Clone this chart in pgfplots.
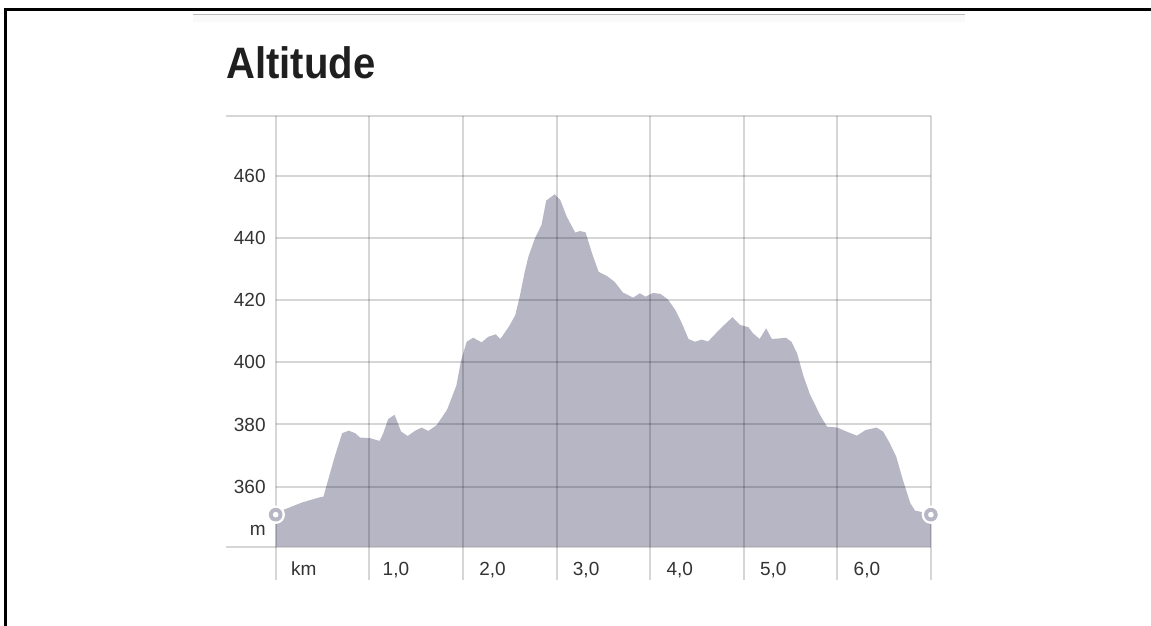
\documentclass[border=0pt]{standalone}
\usepackage{fontspec}
\setmainfont{Liberation Sans}
\usepackage{graphicx}
\usepackage{pgfplots}
\pgfplotsset{compat=1.18}
\definecolor{lav}{HTML}{B7B6C5}
\definecolor{tickc}{HTML}{333333}
\begin{document}
\begin{tikzpicture}[x=0.5pt,y=0.5pt]
\useasboundingbox (0,0) rectangle (1151,626);
\fill[white] (0,0) rectangle (1151,626);
\coordinate (O) at (226,79.3);
% frame
\draw[line width=1.5pt,black] (4,616) -- (1151,616);
\draw[line width=1.5pt,black] (5.5,616.75) -- (5.5,0);
\fill[gray!5] (193,610.5) rectangle (965,604);
\draw[line width=0.75pt,gray!55] (193,611.5) -- (965,611.5);
\node[anchor=base west,inner sep=0,font=\fontsize{22pt}{22pt}\selectfont\bfseries,text=black!88] at (226,547.7) {\scalebox{0.91}[1]{Altitude}};
\begin{axis}[at={(O)},anchor=south west,width=352.5pt,height=215.35pt,scale only axis,
  xmin=-0.531,xmax=7.001,ymin=340.7,ymax=479.2,axis lines=none,xtick=\empty,ytick=\empty,clip=false]
\addplot[fill=lav,draw=none] table {
x y
0.00 340.7
0.00 351.0
0.05 352.2
0.13 353.1
0.28 354.9
0.46 356.5
0.51 356.8
0.54 360.0
0.63 369.6
0.71 377.2
0.78 378.0
0.85 377.2
0.90 375.8
1.01 375.6
1.11 374.7
1.15 377.2
1.20 381.7
1.27 383.1
1.34 377.7
1.41 376.3
1.49 378.0
1.56 379.0
1.63 377.9
1.72 379.8
1.83 384.7
1.93 392.5
1.98 400.5
2.04 406.6
2.11 407.9
2.20 406.4
2.27 408.2
2.35 409.0
2.40 407.5
2.49 411.4
2.56 415.2
2.61 421.5
2.66 429.0
2.70 434.0
2.77 439.9
2.84 444.2
2.89 452.0
2.98 454.0
3.04 452.2
3.11 446.8
3.20 441.7
3.25 442.2
3.31 441.8
3.38 435.0
3.45 429.1
3.54 427.7
3.62 425.9
3.71 422.4
3.82 420.8
3.89 422.2
3.95 421.1
4.03 422.3
4.11 422.0
4.19 420.2
4.27 416.8
4.34 412.5
4.41 407.5
4.48 406.6
4.55 407.3
4.62 406.7
4.75 410.8
4.88 414.5
4.96 412.0
5.05 411.3
5.10 409.3
5.17 407.5
5.24 410.9
5.30 407.5
5.39 407.7
5.45 407.9
5.51 406.6
5.57 402.9
5.64 395.4
5.71 389.5
5.82 382.8
5.89 379.3
6.00 379.0
6.10 377.7
6.21 376.4
6.30 378.2
6.42 379.0
6.49 377.7
6.56 374.0
6.63 369.6
6.70 362.2
6.78 354.7
6.83 352.3
6.88 352.0
7.00 351.0
7.00 340.7
};
% grid
\tikzset{gridc/.style={line width=1pt,black,opacity=0.16}}
\draw[gridc] (0,360) -- (7,360);
\draw[gridc] (0,380) -- (7,380);
\draw[gridc] (0,400) -- (7,400);
\draw[gridc] (0,420) -- (7,420);
\draw[gridc] (0,440) -- (7,440);
\draw[gridc] (0,460) -- (7,460);
\draw[gridc] (-0.531,479.2) -- (7,479.2);
\draw[gridc] (-0.531,340.7) -- (7,340.7);
\draw[gridc] (0,479.2) -- (0,330);
\draw[gridc] (1,479.2) -- (1,330);
\draw[gridc] (2,479.2) -- (2,330);
\draw[gridc] (3,479.2) -- (3,330);
\draw[gridc] (4,479.2) -- (4,330);
\draw[gridc] (5,479.2) -- (5,330);
\draw[gridc] (6,479.2) -- (6,330);
\draw[gridc] (7,479.2) -- (7,330);
\addplot[only marks,color=white,mark=*,mark size=4.4pt,mark options={fill=white,draw=white}] coordinates {(0,351)(7,351)};
\addplot[only marks,color=lav,mark=*,mark size=3.2pt,mark options={fill=lav,draw=lav}] coordinates {(0,351)(7,351)};
\addplot[only marks,color=white,mark=*,mark size=1.2pt,mark options={fill=white,draw=white}] coordinates {(0,351)(7,351)};
\end{axis}
\tikzset{tl/.style={inner sep=0,text=tickc,font=\fontsize{9.5pt}{9.5pt}\selectfont}}
\node[tl,anchor=east] at (266,450.3) {460};
\node[tl,anchor=east] at (266,388.1) {440};
\node[tl,anchor=east] at (266,325.9) {420};
\node[tl,anchor=east] at (266,263.7) {400};
\node[tl,anchor=east] at (266,201.5) {380};
\node[tl,anchor=east] at (266,139.3) {360};
\node[tl,anchor=east] at (266,95.5) {m};
\node[tl,anchor=base west] at (290.7,50) {km};
\node[tl,anchor=base west] at (382.3,50) {1,0};
\node[tl,anchor=base west] at (478.9,50) {2,0};
\node[tl,anchor=base west] at (572.5,50) {3,0};
\node[tl,anchor=base west] at (666.1,50) {4,0};
\node[tl,anchor=base west] at (759.7,50) {5,0};
\node[tl,anchor=base west] at (853.3,50) {6,0};
\end{tikzpicture}
\end{document}
